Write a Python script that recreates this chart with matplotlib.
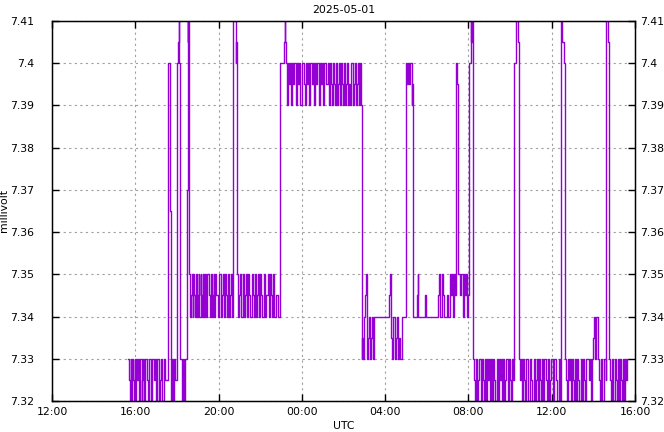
import numpy as np
import matplotlib
matplotlib.use("Agg")
import matplotlib.pyplot as plt
from matplotlib.ticker import FixedLocator, FuncFormatter

# time in minutes after 2025-04-30 12:00 UTC, value in millivolt
t_a = [219, 222, 224, 227, 229, 231, 233, 236, 238, 240,
       243, 245, 248, 250, 253, 255, 258, 260, 263, 266,
       268, 271, 273, 276, 279, 281, 284, 287, 290, 293,
       296, 299, 302, 305, 308, 311, 314, 318, 322, 327]
v_a = [7.33, 7.325, 7.32, 7.33, 7.32, 7.33, 7.325, 7.32, 7.33, 7.32,
       7.33, 7.325, 7.33, 7.32, 7.33, 7.33, 7.32, 7.325, 7.33, 7.32,
       7.33, 7.33, 7.325, 7.32, 7.33, 7.33, 7.32, 7.33, 7.33, 7.325,
       7.33, 7.32, 7.33, 7.33, 7.32, 7.325, 7.33, 7.32, 7.33, 7.325]

t_rise = [333, 340, 343, 346, 348, 351, 354, 359, 361, 363,
          365, 367, 370, 375, 378, 381, 384, 388, 391, 392,
          393, 394, 395]
v_rise = [7.40, 7.365, 7.32, 7.33, 7.32, 7.33, 7.325, 7.36, 7.40, 7.405,
          7.415, 7.40, 7.33, 7.32, 7.33, 7.32, 7.33, 7.37, 7.42, 7.405,
          7.42, 7.405, 7.415]

t_b1 = [396, 399, 401, 403, 405, 407, 409, 411, 414, 416,
        418, 420, 423, 425, 428, 430, 432, 435, 437, 440,
        442, 444, 447, 450, 452, 455, 457, 460, 463, 466,
        468, 471, 474, 477, 480, 483, 486, 489, 492, 495,
        498, 501, 504, 507, 510, 513, 516, 519]
v_b1 = [7.35, 7.34, 7.345, 7.35, 7.34, 7.35, 7.345, 7.34, 7.35, 7.35,
        7.34, 7.345, 7.35, 7.34, 7.35, 7.345, 7.34, 7.35, 7.34, 7.345,
        7.35, 7.34, 7.35, 7.35, 7.345, 7.34, 7.35, 7.34, 7.345, 7.35,
        7.34, 7.35, 7.345, 7.34, 7.35, 7.35, 7.34, 7.345, 7.35, 7.34,
        7.35, 7.345, 7.34, 7.35, 7.34, 7.345, 7.35, 7.34]

t_spk1 = [521, 523, 526, 529, 531, 532]
v_spk1 = [7.40, 7.42, 7.41, 7.40, 7.405, 7.40]

t_b2 = [534, 537, 540, 543, 546, 549, 552, 555, 558, 561,
        564, 567, 570, 573, 576, 579, 582, 585, 588, 591,
        594, 597, 600, 603, 606, 609, 612, 615, 618, 621,
        624, 627, 630, 633, 636, 640, 645, 650]
v_b2 = [7.35, 7.34, 7.345, 7.35, 7.34, 7.35, 7.34, 7.345, 7.35, 7.34,
        7.35, 7.345, 7.34, 7.34, 7.35, 7.345, 7.34, 7.35, 7.34, 7.345,
        7.35, 7.34, 7.35, 7.345, 7.34, 7.34, 7.35, 7.34, 7.345, 7.35,
        7.34, 7.35, 7.345, 7.34, 7.35, 7.34, 7.345, 7.34]

t_c = [657, 662, 669, 670, 672, 674, 677, 680, 683, 686,
       689, 692, 695, 698, 701, 704, 707, 710, 713, 716,
       719, 722, 725, 728, 731, 734, 737, 740, 743, 746,
       749, 752, 755, 758, 761, 764, 767, 770, 773, 776,
       779, 782, 785, 788, 791, 794, 797, 800, 803, 806,
       809, 812, 815, 818, 821, 824, 827, 830, 833, 836,
       839, 842, 845, 848, 851, 854, 857, 860, 863, 866,
       869, 872, 875, 878, 881, 884, 887, 890]
v_c = [7.40, 7.40, 7.405, 7.415, 7.405, 7.40, 7.39, 7.40, 7.395, 7.40,
       7.39, 7.40, 7.395, 7.40, 7.40, 7.39, 7.40, 7.395, 7.40, 7.39,
       7.40, 7.40, 7.395, 7.39, 7.40, 7.395, 7.40, 7.39, 7.40, 7.40,
       7.395, 7.40, 7.39, 7.40, 7.395, 7.40, 7.40, 7.39, 7.40, 7.395,
       7.40, 7.39, 7.40, 7.40, 7.395, 7.40, 7.39, 7.40, 7.395, 7.39,
       7.40, 7.395, 7.39, 7.40, 7.39, 7.395, 7.40, 7.39, 7.40, 7.395,
       7.39, 7.40, 7.39, 7.395, 7.40, 7.39, 7.395, 7.39, 7.40, 7.39,
       7.395, 7.40, 7.39, 7.395, 7.40, 7.39, 7.40, 7.39]

t_d = [893, 894, 897, 900, 903, 905, 907, 909, 911, 913,
       916, 919, 922, 925, 927, 972, 975, 978, 981, 984,
       987, 990, 993, 996, 999, 1002, 1008, 1019, 1021, 1024,
       1027, 1030, 1033, 1036, 1038, 1041, 1052, 1054, 1055, 1075,
       1078, 1112, 1115, 1118, 1125, 1128, 1131, 1138, 1141, 1146,
       1149, 1152, 1155, 1158, 1161, 1165, 1168, 1171, 1177, 1180,
       1183, 1186, 1189, 1192, 1195, 1198, 1203, 1206, 1208, 1210]
v_d = [7.33, 7.335, 7.33, 7.34, 7.345, 7.35, 7.34, 7.33, 7.335, 7.34,
       7.33, 7.335, 7.34, 7.33, 7.34, 7.345, 7.35, 7.335, 7.33, 7.34,
       7.33, 7.335, 7.34, 7.33, 7.335, 7.33, 7.34, 7.39, 7.40, 7.395,
       7.40, 7.395, 7.40, 7.39, 7.395, 7.34, 7.345, 7.35, 7.34, 7.345,
       7.34, 7.345, 7.35, 7.34, 7.35, 7.345, 7.34, 7.345, 7.34, 7.35,
       7.345, 7.35, 7.34, 7.35, 7.345, 7.40, 7.395, 7.35, 7.345, 7.35,
       7.34, 7.35, 7.345, 7.35, 7.34, 7.345, 7.40, 7.415, 7.405, 7.415]

t_e1 = [1212, 1215, 1218, 1221, 1224, 1227, 1230, 1233, 1236, 1239,
        1242, 1245, 1248, 1251, 1254, 1257, 1260, 1263, 1266, 1269,
        1272, 1275, 1278, 1281, 1284, 1287, 1290, 1293, 1296, 1299,
        1302, 1305, 1308, 1311, 1314, 1317, 1320, 1323, 1326, 1329]
v_e1 = [7.33, 7.325, 7.32, 7.33, 7.32, 7.325, 7.33, 7.33, 7.32, 7.33,
        7.325, 7.32, 7.33, 7.32, 7.33, 7.325, 7.33, 7.32, 7.33, 7.32,
        7.33, 7.325, 7.32, 7.33, 7.32, 7.33, 7.325, 7.33, 7.32, 7.33,
        7.32, 7.325, 7.33, 7.33, 7.32, 7.33, 7.325, 7.32, 7.33, 7.325]

t_spk2 = [1332, 1336, 1340, 1343]
v_spk2 = [7.40, 7.42, 7.415, 7.405]

t_e2 = [1346, 1349, 1352, 1355, 1358, 1361, 1364, 1367, 1370, 1373,
        1376, 1379, 1382, 1385, 1388, 1391, 1394, 1397, 1400, 1403,
        1406, 1409, 1412, 1415, 1418, 1421, 1424, 1427, 1430, 1433,
        1436, 1439, 1442, 1445, 1448, 1452, 1456, 1460, 1463]
v_e2 = [7.33, 7.325, 7.33, 7.32, 7.33, 7.325, 7.32, 7.33, 7.33, 7.32,
        7.33, 7.325, 7.32, 7.32, 7.33, 7.32, 7.325, 7.33, 7.32, 7.33,
        7.325, 7.32, 7.33, 7.32, 7.33, 7.33, 7.325, 7.32, 7.33, 7.32,
        7.325, 7.33, 7.33, 7.32, 7.33, 7.325, 7.32, 7.33, 7.32]

t_spk3 = [1467, 1471, 1475]
v_spk3 = [7.42, 7.405, 7.40]

t_e3 = [1478, 1481, 1484, 1487, 1490, 1493, 1496, 1499, 1502, 1505,
        1508, 1511, 1514, 1517, 1520, 1523, 1526, 1529, 1532, 1535,
        1538, 1548, 1551, 1554, 1557, 1560, 1563, 1566, 1569, 1574,
        1577, 1580, 1583, 1586, 1589, 1592, 1595]
v_e3 = [7.33, 7.325, 7.32, 7.33, 7.325, 7.33, 7.32, 7.33, 7.325, 7.32,
        7.33, 7.32, 7.33, 7.325, 7.32, 7.33, 7.32, 7.33, 7.325, 7.32,
        7.33, 7.325, 7.33, 7.32, 7.33, 7.335, 7.34, 7.33, 7.34, 7.33,
        7.325, 7.32, 7.33, 7.32, 7.32, 7.33, 7.325]

t_spk4 = [1597, 1601]
v_spk4 = [7.42, 7.405]

t_e4 = [1606, 1609, 1612, 1615, 1618, 1621, 1624, 1627, 1630, 1633,
        1636, 1639, 1642, 1645, 1648, 1651, 1654, 1657, 1659]
v_e4 = [7.33, 7.325, 7.32, 7.33, 7.32, 7.33, 7.325, 7.32, 7.33, 7.32,
        7.33, 7.325, 7.32, 7.33, 7.32, 7.33, 7.325, 7.33, 7.33]

x_ticks = [0, 240, 480, 720, 960, 1200, 1440, 1680]
x_labels = ["12:00", "16:00", "20:00", "00:00", "04:00", "08:00", "12:00", "16:00"]
y_ticks = [7.32, 7.33, 7.34, 7.35, 7.36, 7.37, 7.38, 7.39, 7.40, 7.41]

t = np.concatenate([t_a, t_rise, t_b1, t_spk1, t_b2, t_c, t_d,
                    t_e1, t_spk2, t_e2, t_spk3, t_e3, t_spk4, t_e4])
v = np.concatenate([v_a, v_rise, v_b1, v_spk1, v_b2, v_c, v_d,
                    v_e1, v_spk2, v_e2, v_spk3, v_e3, v_spk4, v_e4])

fs = 7.8
plt.rcParams['font.family'] = ['DejaVu Sans']
fig = plt.figure(figsize=(6.64, 4.32), dpi=100)
ax = fig.add_axes([52 / 664, 31 / 432, 583 / 664, 380 / 432])

ax.step(t, v, where='post', color='#9400d3', linewidth=1.0)

ax.set_xlim(0, 1680)
ax.set_ylim(7.32, 7.41)
ax.xaxis.set_major_locator(FixedLocator(x_ticks))
ax.set_xticklabels(x_labels)
yfmt = FuncFormatter(lambda y, pos: "%g" % round(y, 3))
ax.yaxis.set_major_locator(FixedLocator(y_ticks))
ax.yaxis.set_major_formatter(yfmt)

ax.grid(True, color='#a0a0a0', linestyle=(0, (2, 3)), linewidth=0.8)
ax.tick_params(direction='in', length=5, width=1, top=True, right=True,
               labelsize=fs, colors='black')
ax.tick_params(axis='y', pad=13)
ax.tick_params(axis='x', pad=4)
for s in ax.spines.values():
    s.set_linewidth(1.0)

# mirrored labels on the right side
ax_r = ax.twinx()
ax_r.set_ylim(7.32, 7.41)
ax_r.yaxis.set_major_locator(FixedLocator(y_ticks))
ax_r.yaxis.set_major_formatter(yfmt)
ax_r.tick_params(direction='in', length=5, width=1, labelsize=fs, pad=4)

ax.set_title("2025-05-01", fontsize=fs, pad=6)
ax.set_xlabel("UTC", fontsize=fs, labelpad=3)
ax.set_ylabel("millivolt", fontsize=fs, labelpad=1)

fig.savefig("out.png", dpi=100)
